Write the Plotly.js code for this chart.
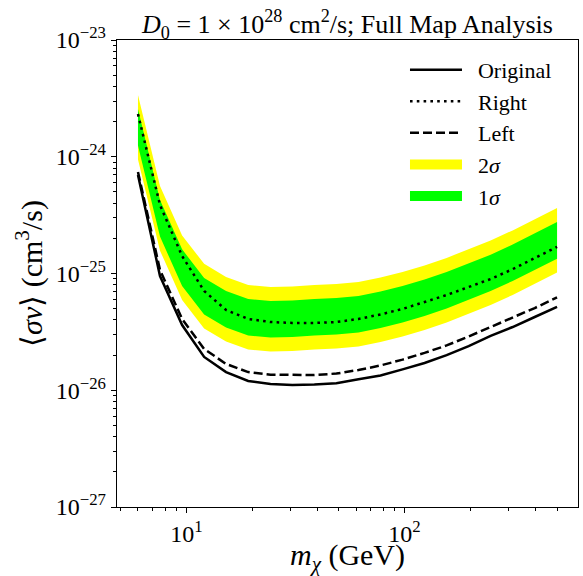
<!DOCTYPE html>
<html>
<head>
<meta charset="utf-8">
<script src="https://cdn.plot.ly/plotly-3.0.1.min.js"></script>
<style>html,body{margin:0;padding:0;background:#fff;}#chart{width:583px;height:576px;}</style>
</head>
<body>
<div id="chart"></div>
<script>
// Dark-matter mass (GeV)
var masses = [6, 7.57, 9.56, 12.06, 15.2, 19.2, 24.3, 30.6, 38.6, 48.7, 61.5, 77.6, 97.9, 123.5, 155.9, 196.7, 248, 313, 395, 500];
// <sigma v> limits (cm^3/s)
var original = [6.98e-25, 9.52e-26, 3.62e-26, 1.93e-26, 1.43e-26, 1.20e-26, 1.13e-26, 1.11e-26, 1.12e-26, 1.15e-26, 1.24e-26, 1.34e-26, 1.51e-26, 1.71e-26, 2.00e-26, 2.39e-26, 2.92e-26, 3.48e-26, 4.24e-26, 5.17e-26];
var right = [2.32e-24, 3.86e-25, 1.41e-25, 7.09e-26, 4.87e-26, 4.08e-26, 3.84e-26, 3.77e-26, 3.77e-26, 3.84e-26, 4.08e-26, 4.46e-26, 4.97e-26, 5.70e-26, 6.54e-26, 7.66e-26, 8.97e-26, 1.09e-25, 1.36e-25, 1.69e-25];
var left = [7.40e-25, 1.07e-25, 4.08e-26, 2.26e-26, 1.68e-26, 1.43e-26, 1.36e-26, 1.35e-26, 1.35e-26, 1.39e-26, 1.49e-26, 1.63e-26, 1.83e-26, 2.09e-26, 2.42e-26, 2.89e-26, 3.48e-26, 4.16e-26, 5.06e-26, 6.23e-26];
var twoSigmaUpper = [3.38e-24, 5.62e-25, 2.12e-25, 1.21e-25, 9.34e-26, 7.97e-26, 7.66e-26, 7.74e-26, 7.97e-26, 8.13e-26, 8.46e-26, 9.25e-26, 1.03e-25, 1.17e-25, 1.36e-25, 1.61e-25, 1.92e-25, 2.34e-25, 2.90e-25, 3.64e-25];
var oneSigmaUpper = [2.56e-24, 4.26e-25, 1.61e-25, 9.15e-26, 7.09e-26, 6.05e-26, 5.81e-26, 5.87e-26, 6.05e-26, 6.17e-26, 6.42e-26, 7.02e-26, 7.82e-26, 8.88e-26, 1.03e-25, 1.22e-25, 1.45e-25, 1.77e-25, 2.20e-25, 2.76e-25];
var oneSigmaLower = [1.25e-24, 2.07e-25, 7.81e-26, 4.46e-26, 3.45e-26, 2.94e-26, 2.83e-26, 2.86e-26, 2.94e-26, 3.00e-26, 3.12e-26, 3.42e-26, 3.81e-26, 4.33e-26, 5.02e-26, 5.93e-26, 7.08e-26, 8.63e-26, 1.07e-25, 1.34e-25];
var twoSigmaLower = [9.47e-25, 1.57e-25, 5.93e-26, 3.38e-26, 2.62e-26, 2.23e-26, 2.15e-26, 2.17e-26, 2.23e-26, 2.28e-26, 2.37e-26, 2.59e-26, 2.89e-26, 3.28e-26, 3.81e-26, 4.50e-26, 5.37e-26, 6.55e-26, 8.13e-26, 1.02e-25];

// Tick labels
var xTickVals = [10, 100];
var xTickText = ['10<sup>1</sup>', '10<sup>2</sup>'];
var xMinor = [5, 6, 7, 8, 9, 20, 30, 40, 50, 60, 70, 80, 90, 200, 300, 400, 500];
var yTickVals = [1e-27, 1e-26, 1e-25, 1e-24, 1e-23];
var yTickText = ['10<sup>\u221227</sup>', '10<sup>\u221226</sup>', '10<sup>\u221225</sup>', '10<sup>\u221224</sup>', '10<sup>\u221223</sup>'];
var yMinor = [2e-27, 3e-27, 4e-27, 5e-27, 6e-27, 7e-27, 8e-27, 9e-27,
              2e-26, 3e-26, 4e-26, 5e-26, 6e-26, 7e-26, 8e-26, 9e-26,
              2e-25, 3e-25, 4e-25, 5e-25, 6e-25, 7e-25, 8e-25, 9e-25,
              2e-24, 3e-24, 4e-24, 5e-24, 6e-24, 7e-24, 8e-24, 9e-24];

var FONT = 'Liberation Serif, Times New Roman, serif';
var LW = 2.5;
var SP = '\u2002';

var data = [
  {x: masses, y: twoSigmaLower, mode: 'lines', line: {width: 0, color: '#ffff00'}, showlegend: false, hoverinfo: 'skip'},
  {x: masses, y: twoSigmaUpper, mode: 'lines', fill: 'tonexty', fillcolor: '#ffff00', line: {width: 0, color: '#ffff00'}, showlegend: false},
  {x: masses, y: oneSigmaLower, mode: 'lines', line: {width: 0, color: '#00ff00'}, showlegend: false, hoverinfo: 'skip'},
  {x: masses, y: oneSigmaUpper, mode: 'lines', fill: 'tonexty', fillcolor: '#00ff00', line: {width: 0, color: '#00ff00'}, showlegend: false},
  {x: masses, y: original, mode: 'lines', line: {color: '#000', width: LW, dash: 'solid'}, name: SP + 'Original', legendrank: 1, legendgroup: 'g1'},
  {x: masses, y: right, mode: 'lines', line: {color: '#000', width: LW, dash: '2.6px,4.2px'}, name: SP + 'Right', legendrank: 2, legendgroup: 'g2'},
  {x: masses, y: left, mode: 'lines', line: {color: '#000', width: LW, dash: '9px,4px'}, name: SP + 'Left', legendrank: 3, legendgroup: 'g3'},
  // legend swatches for the bands (no data drawn)
  {x: [null], y: [null], mode: 'lines', line: {color: '#ffff00', width: 17}, name: SP + '2<i>\u03c3</i>', legendrank: 4, legendgroup: 'g4'},
  {x: [null], y: [null], mode: 'lines', line: {color: '#00ff00', width: 17}, name: SP + '1<i>\u03c3</i>', legendrank: 5, legendgroup: 'g5'}
];

var layout = {
  width: 583, height: 576,
  margin: {l: 117, r: 5, t: 40, b: 69},
  paper_bgcolor: '#fff', plot_bgcolor: '#fff',
  font: {family: FONT, color: '#000', size: 20},
  title: {
    text: '<i>D</i><sub>0</sub> = 1 \u00d7 10<sup>28</sup> cm<sup>2</sup>/s; Full Map Analysis',
    font: {family: FONT, size: 26, color: '#000'},
    x: 0.5, xref: 'paper', xanchor: 'center',
    y: 0.958, yref: 'container', yanchor: 'middle'
  },
  xaxis: {
    type: 'log', range: [0.682, 2.795],
    tickmode: 'array', tickvals: xTickVals, ticktext: xTickText,
    ticks: 'outside', ticklen: 5, tickwidth: 1, tickcolor: '#000',
    minor: {tickmode: 'array', tickvals: xMinor, ticks: 'outside', ticklen: 3, tickwidth: 1, tickcolor: '#000', showgrid: false},
    showline: true, linecolor: '#000', linewidth: 1.2, mirror: true,
    showgrid: false, zeroline: false,
    tickfont: {family: FONT, size: 24, color: '#000'},
    title: {text: '<i>m</i><sub><i>\u03c7</i></sub> (GeV)', font: {family: FONT, size: 30, color: '#000'}, standoff: 12}
  },
  yaxis: {
    type: 'log', range: [-27, -23],
    tickmode: 'array', tickvals: yTickVals, ticktext: yTickText,
    ticks: 'outside', ticklen: 5, tickwidth: 1, tickcolor: '#000',
    minor: {tickmode: 'array', tickvals: yMinor, ticks: 'outside', ticklen: 3, tickwidth: 1, tickcolor: '#000', showgrid: false},
    showline: true, linecolor: '#000', linewidth: 1.2, mirror: true,
    showgrid: false, zeroline: false,
    tickfont: {family: FONT, size: 24, color: '#000'},
    title: {text: '\u27e8<i>\u03c3v</i>\u27e9 (cm<sup>3</sup>/s)', font: {family: FONT, size: 30, color: '#000'}, standoff: 4}
  },
  legend: {
    x: 0.6247, y: 0.981, xanchor: 'left', yanchor: 'top',
    bgcolor: 'rgba(0,0,0,0)', borderwidth: 0,
    font: {family: FONT, size: 22, color: '#000'},
    traceorder: 'grouped', tracegroupgap: 0,
    itemwidth: 52
  },
  showlegend: true
};

Plotly.newPlot('chart', data, layout, {displayModeBar: false, staticPlot: true});
</script>
</body>
</html>
